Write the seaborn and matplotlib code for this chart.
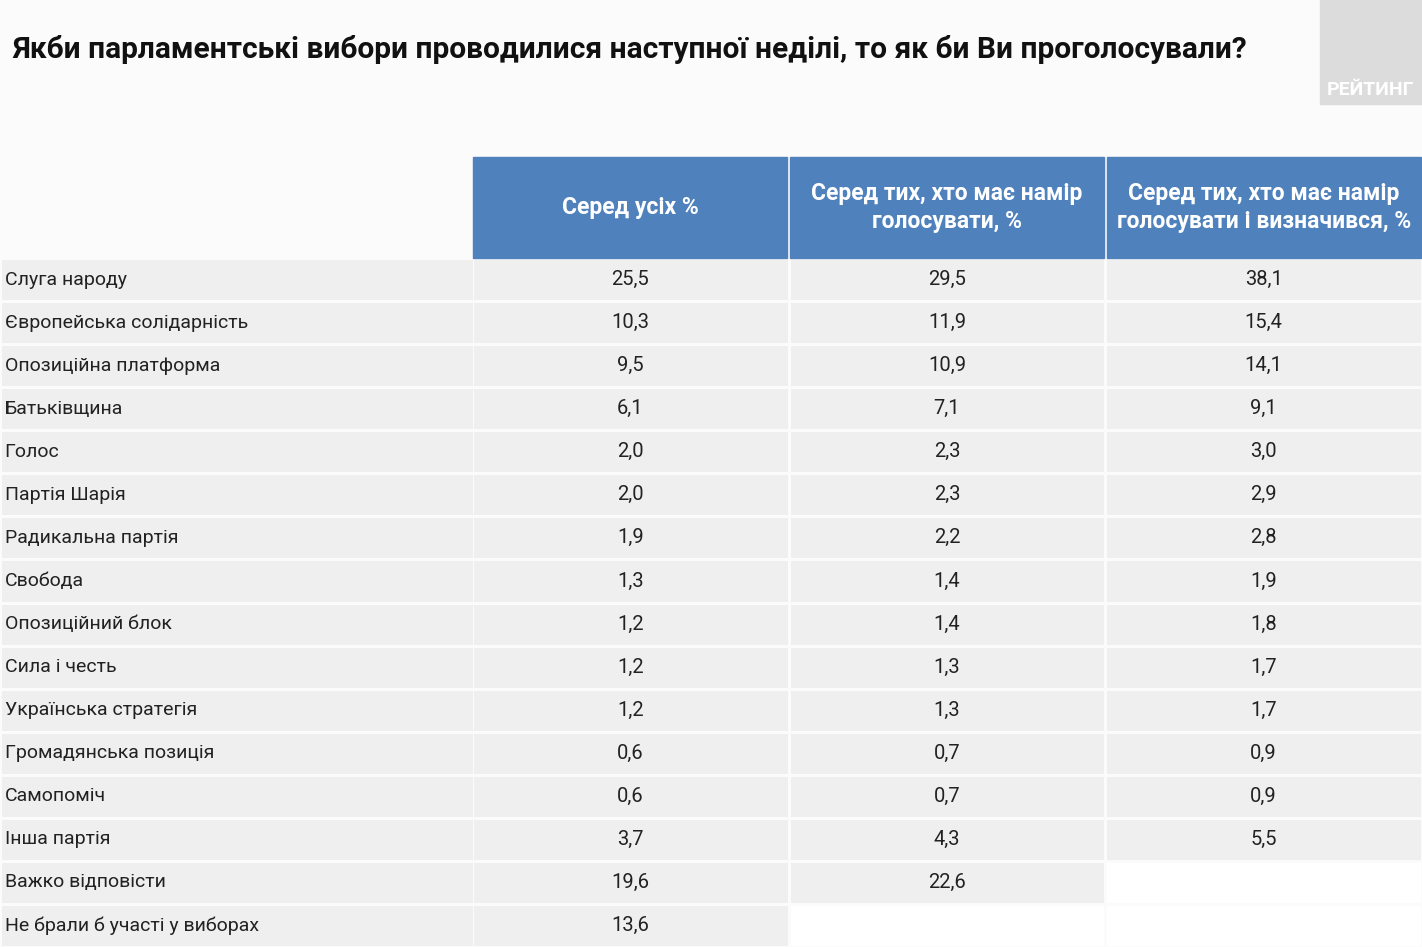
import matplotlib
matplotlib.use("Agg")
import matplotlib.pyplot as plt
import numpy as np
import seaborn as sns
from matplotlib.patches import Rectangle

TITLE = "Якби парламентські вибори проводилися наступної неділі, то як би Ви проголосували?"
HEADERS = ["Серед усіх %", "Серед тих, хто має намір\nголосувати, %",
           "Серед тих, хто має намір\nголосувати і визначився, %"]
PARTIES = ["Слуга народу", "Європейська солідарність", "Опозиційна платформа",
           "Батьківщина", "Голос", "Партія Шарія", "Радикальна партія", "Свобода",
           "Опозиційний блок", "Сила і честь", "Українська стратегія",
           "Громадянська позиція", "Самопоміч", "Інша партія", "Важко відповісти",
           "Не брали б участі у виборах"]
ALL = [25.5, 10.3, 9.5, 6.1, 2.0, 2.0, 1.9, 1.3, 1.2, 1.2, 1.2, 0.6, 0.6, 3.7, 19.6, 13.6]
VOTERS = [29.5, 11.9, 10.9, 7.1, 2.3, 2.3, 2.2, 1.4, 1.4, 1.3, 1.3, 0.7, 0.7, 4.3, 22.6, np.nan]
DECIDED = [38.1, 15.4, 14.1, 9.1, 3.0, 2.9, 2.8, 1.9, 1.8, 1.7, 1.7, 0.9, 0.9, 5.5, np.nan, np.nan]

FONT = ["Liberation Sans Narrow", "Roboto", "DejaVu Sans"]
plt.rcParams["font.family"] = FONT
W, H = 1422, 947
CELL = "#efefef"
BLUE = "#4f81bd"

fig = plt.figure(figsize=(W / 100, H / 100), dpi=100, facecolor="#fbfbfb")

def px_axes(x0, y0, x1, y1):
    return fig.add_axes([x0 / W, 1 - y1 / H, (x1 - x0) / W, (y1 - y0) / H])

data = np.array([ALL, VOTERS, DECIDED]).T
labels = np.vectorize(lambda v: "" if np.isnan(v) else f"{v:.1f}".replace(".", ","))(data)

ax = px_axes(472, 258, 1422, 947)
sns.heatmap(data, ax=ax, mask=np.isnan(data), cmap=sns.light_palette(CELL, 2)[1:],
            cbar=False, annot=labels, fmt="", linewidths=2, linecolor="#fbfbfb",
            annot_kws={"fontsize": 14.5, "color": "#222222"},
            xticklabels=False, yticklabels=False)

axl = px_axes(0, 258, 474, 947)
sns.heatmap(np.zeros((len(PARTIES), 1)), ax=axl, cmap=sns.light_palette(CELL, 2)[1:],
            cbar=False, linewidths=2, linecolor="#fbfbfb",
            xticklabels=False, yticklabels=False)
for i, name in enumerate(PARTIES):
    axl.text(0.01, i + 0.5, name, ha="left", va="center", fontsize=14, color="#222222")

axh = px_axes(472, 155, 1422, 260)
axh.set_xlim(0, 3)
axh.set_ylim(0, 1)
axh.axis("off")
for j, h in enumerate(HEADERS):
    axh.add_patch(Rectangle((j + 0.004, 0.02), 0.992, 0.96, color=BLUE))
    axh.text(j + 0.5, 0.5, h, ha="center", va="center", color="white",
             fontsize=16.5, fontweight="bold", linespacing=1.3)

fig.text(12 / W, 1 - 50 / H, TITLE, fontsize=21.5, fontweight="bold",
         va="center", ha="left", color="#111111")
fig.patches.append(Rectangle((1320 / W, 1 - 104 / H), 102 / W, 104 / H,
                             transform=fig.transFigure, color="#dcdcdc", figure=fig))
fig.text(1371 / W, 1 - 90 / H, "РЕЙТИНГ", fontsize=14, fontweight="bold",
         color="white", ha="center", va="center")

fig.savefig("out.png", dpi=100, facecolor=fig.get_facecolor())
